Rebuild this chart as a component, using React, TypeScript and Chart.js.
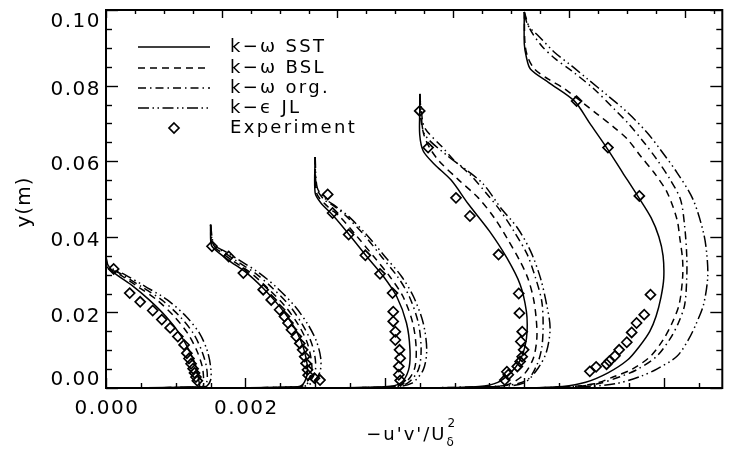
import { useEffect, useRef } from "react";
import { Chart, registerables } from "chart.js";

Chart.register(...registerables);

// Each profile point: [y (m), -u'v'/U_δ²]
type Pt = [number, number];

// Horizontal shift applied to each measuring station
const STATION_OFFSETS = [0, 0.0015, 0.003, 0.0045, 0.006];

// ---- k-ω SST ----
const sst1: Pt[] = [[0.0347, 0], [0.0322, 0.00001], [0.03, 0.00015], [0.0269, 0.00039], [0.0233, 0.00062], [0.0189, 0.00086], [0.0145, 0.00105], [0.01, 0.00119], [0.0057, 0.00129], [0.0021, 0.00133], [0.0003, 0.00133], [0, 0]];
const sst2: Pt[] = [[0.0432, 0], [0.0379, 0.00001], [0.0362, 0.00009], [0.0335, 0.00028], [0.0304, 0.00052], [0.0264, 0.000755], [0.0216, 0.00099], [0.0167, 0.00118], [0.0123, 0.0013], [0.0079, 0.00137], [0.0043, 0.00139], [0.0017, 0.00135], [0.0003, 0.00127], [0, 0]];
const sst3: Pt[] = [[0.0611, 0], [0.0516, 0], [0.049, 0.00008], [0.0454, 0.00027], [0.0401, 0.00051], [0.0348, 0.00074], [0.0295, 0.00098], [0.0242, 0.00117], [0.0172, 0.00131], [0.0101, 0.00136], [0.0048, 0.00134], [0.0012, 0.00122], [0.0003, 0.001], [0, 0]];
const sst4: Pt[] = [[0.0778, 0], [0.0733, 0], [0.067, 0], [0.0627, 0.00005], [0.0592, 0.00021], [0.055, 0.00045], [0.0486, 0.0007], [0.0415, 0.001], [0.0344, 0.00125], [0.0274, 0.00144], [0.0203, 0.00153], [0.015, 0.00154], [0.011, 0.00151], [0.007, 0.00143], [0.004, 0.0013], [0.0015, 0.00112], [0.0004, 0.00085], [0, 0]];
const sst5: Pt[] = [[0.0995, 0], [0.091, 0], [0.0875, 0.00003], [0.0843, 0.00009], [0.0808, 0.00035], [0.0759, 0.00072], [0.07, 0.00094], [0.0636, 0.00118], [0.057, 0.00141], [0.0507, 0.00163], [0.045, 0.00182], [0.04, 0.00193], [0.035, 0.00199], [0.029, 0.002], [0.024, 0.00196], [0.019, 0.00189], [0.015, 0.0018], [0.011, 0.00165], [0.0074, 0.00148], [0.004, 0.0012], [0.0015, 0.00088], [0.0004, 0.00055], [0, 0]];

// ---- k-ω BSL ----
const bsl1: Pt[] = [[0.0347, 0], [0.0322, 0.00002], [0.03, 0.0002], [0.0269, 0.00045], [0.0233, 0.00073], [0.0189, 0.00098], [0.0145, 0.00117], [0.01, 0.0013], [0.0057, 0.00138], [0.0021, 0.0014], [0.0003, 0.00138], [0, 0]];
const bsl2: Pt[] = [[0.0432, 0], [0.0379, 0.00002], [0.0362, 0.00013], [0.0335, 0.00033], [0.0304, 0.00058], [0.0264, 0.00082], [0.0216, 0.00107], [0.0167, 0.00126], [0.0123, 0.00138], [0.0079, 0.00144], [0.0043, 0.00145], [0.0017, 0.00138], [0.0003, 0.00125], [0, 0]];
const bsl3: Pt[] = [[0.0611, 0], [0.0516, 0.00002], [0.048, 0.00018], [0.0454, 0.00035], [0.0401, 0.0006], [0.0348, 0.00084], [0.0295, 0.00107], [0.0242, 0.00126], [0.0172, 0.0014], [0.0101, 0.00145], [0.0048, 0.00142], [0.0012, 0.00128], [0.0003, 0.00105], [0, 0]];
const bsl4: Pt[] = [[0.0778, 0], [0.072, 0.00001], [0.067, 0.00006], [0.0636, 0.00014], [0.06, 0.00028], [0.0552, 0.00055], [0.0503, 0.00084], [0.045, 0.00107], [0.0397, 0.00125], [0.0335, 0.00144], [0.0291, 0.00155], [0.0238, 0.00163], [0.0185, 0.00167], [0.0132, 0.00168], [0.0079, 0.00163], [0.0035, 0.00149], [0.0008, 0.00125], [0.0002, 0.0009], [0, 0]];
const bsl5: Pt[] = [[0.0995, 0], [0.091, 0.00001], [0.0875, 0.00005], [0.0843, 0.00015], [0.0817, 0.000345], [0.0791, 0.00058], [0.0724, 0.00105], [0.0689, 0.00129], [0.0658, 0.00148], [0.0613, 0.00167], [0.057, 0.00186], [0.0517, 0.00205], [0.0446, 0.00219], [0.0397, 0.00223], [0.034, 0.00227], [0.029, 0.00227], [0.022, 0.00222], [0.0172, 0.00212], [0.013, 0.002], [0.0084, 0.00181], [0.005, 0.00155], [0.0031, 0.0013], [0.0011, 0.001], [0.0003, 0.0006], [0, 0]];

// ---- k-ω original ----
const org1: Pt[] = [[0.0347, 0], [0.0322, 0.00003], [0.03, 0.00023], [0.0269, 0.0005], [0.0233, 0.0008], [0.0189, 0.00106], [0.0145, 0.00125], [0.01, 0.00137], [0.0057, 0.00144], [0.0021, 0.00145], [0.0003, 0.0014], [0, 0]];
const org2: Pt[] = [[0.0432, 0], [0.0379, 0.00004], [0.0362, 0.00017], [0.0335, 0.00038], [0.0304, 0.00064], [0.0264, 0.00089], [0.0216, 0.00114], [0.0167, 0.00132], [0.0123, 0.00144], [0.0079, 0.0015], [0.0043, 0.0015], [0.0017, 0.00142], [0.0003, 0.00128], [0, 0]];
const org3: Pt[] = [[0.0611, 0], [0.053, 0.00002], [0.05, 0.00012], [0.048, 0.00028], [0.0454, 0.00045], [0.0401, 0.00072], [0.0348, 0.00095], [0.0295, 0.00118], [0.0242, 0.00135], [0.0172, 0.00148], [0.0101, 0.00152], [0.0048, 0.00148], [0.0012, 0.00132], [0.0003, 0.0011], [0, 0]];
const org4: Pt[] = [[0.0778, 0], [0.074, 0.00002], [0.0689, 0.00007], [0.0636, 0.00033], [0.0601, 0.0005], [0.0565, 0.00072], [0.0512, 0.00097], [0.0468, 0.00116], [0.0415, 0.00135], [0.0354, 0.00154], [0.0292, 0.00166], [0.023, 0.00175], [0.0168, 0.00177], [0.0106, 0.00175], [0.0061, 0.00168], [0.0021, 0.00154], [0.0006, 0.0012], [0, 0]];
const org5: Pt[] = [[0.0995, 0], [0.095, 0.00008], [0.0905, 0.00025], [0.087, 0.00045], [0.0839, 0.00068], [0.0791, 0.001], [0.0738, 0.00129], [0.0702, 0.00148], [0.0649, 0.00172], [0.0605, 0.0019], [0.0552, 0.00209], [0.0499, 0.00224], [0.0428, 0.0023], [0.035, 0.00233], [0.029, 0.00233], [0.022, 0.0023], [0.0172, 0.00221], [0.013, 0.00209], [0.0084, 0.0019], [0.005, 0.00163], [0.0031, 0.00139], [0.0011, 0.00105], [0.0003, 0.00065], [0, 0]];

// ---- k-ε Jones-Launder ----
const jl1: Pt[] = [[0.0347, 0], [0.0322, 0.00004], [0.03, 0.00027], [0.0269, 0.00056], [0.0233, 0.00088], [0.0189, 0.00115], [0.0145, 0.00134], [0.01, 0.00145], [0.0057, 0.0015], [0.0021, 0.0015], [0.0003, 0.00142], [0, 0]];
const jl2: Pt[] = [[0.0432, 0], [0.0379, 0.00005], [0.0362, 0.0002], [0.0335, 0.00044], [0.0304, 0.0007], [0.0264, 0.00096], [0.0216, 0.00121], [0.0167, 0.0014], [0.0123, 0.00152], [0.0079, 0.00158], [0.0043, 0.00157], [0.0017, 0.00148], [0.0003, 0.0013], [0, 0]];
const jl3: Pt[] = [[0.0611, 0], [0.053, 0.00003], [0.05, 0.00015], [0.048, 0.0003], [0.0454, 0.00048], [0.0401, 0.00076], [0.0348, 0.001], [0.0295, 0.00124], [0.0242, 0.00141], [0.0172, 0.00155], [0.0101, 0.0016], [0.0048, 0.00155], [0.0012, 0.00138], [0.0003, 0.00112], [0, 0]];
const jl4: Pt[] = [[0.0778, 0], [0.073, 0.00002], [0.0671, 0.00007], [0.0614, 0.0004], [0.0574, 0.00069], [0.0538, 0.00092], [0.0477, 0.00116], [0.0424, 0.0014], [0.0362, 0.00159], [0.0292, 0.00173], [0.0221, 0.00182], [0.0159, 0.00187], [0.0097, 0.00182], [0.0053, 0.0017], [0.0013, 0.00149], [0.0003, 0.001], [0, 0]];
const jl5: Pt[] = [[0.0995, 0], [0.096, 0.00005], [0.0932, 0.0002], [0.0887, 0.00044], [0.0852, 0.00068], [0.0817, 0.00091], [0.0773, 0.0012], [0.0729, 0.00148], [0.0676, 0.00176], [0.0631, 0.00195], [0.057, 0.00219], [0.0499, 0.00242], [0.0411, 0.00257], [0.035, 0.00262], [0.029, 0.00263], [0.022, 0.00257], [0.0172, 0.00247], [0.013, 0.00236], [0.0084, 0.00219], [0.005, 0.0019], [0.0031, 0.00167], [0.0011, 0.0013], [0.0003, 0.0008], [0, 0]];

// ---- Experiment ----
const exp1: Pt[] = [[0.0315, 0.00011], [0.0251, 0.00034], [0.0228, 0.00049], [0.0205, 0.00067], [0.0181, 0.0008], [0.0159, 0.00092], [0.0136, 0.00103], [0.0114, 0.00112], [0.0092, 0.00116], [0.0078, 0.00119], [0.0064, 0.00122], [0.0051, 0.00125], [0.004, 0.00127], [0.0029, 0.00129], [0.0019, 0.00131]];
const exp2: Pt[] = [[0.0375, 0.00002], [0.0348, 0.00026], [0.0304, 0.00047], [0.026, 0.000755], [0.0233, 0.00087], [0.0207, 0.00099], [0.0189, 0.00106], [0.0172, 0.00111], [0.0154, 0.00116], [0.0136, 0.00123], [0.0118, 0.00128], [0.0101, 0.00132], [0.0083, 0.00135], [0.0065, 0.00137], [0.0048, 0.00139], [0.0034, 0.0014], [0.0026, 0.00149], [0.0021, 0.00157]];
const exp3: Pt[] = [[0.0512, 0.00018], [0.0463, 0.00025], [0.0406, 0.00048], [0.0351, 0.00072], [0.0302, 0.00093], [0.0251, 0.00111], [0.0202, 0.00112], [0.0176, 0.00112], [0.0149, 0.00115], [0.0127, 0.00115], [0.0101, 0.00121], [0.0079, 0.00122], [0.0057, 0.0012], [0.0035, 0.0012], [0.002, 0.00122]];
const exp4: Pt[] = [[0.0733, 0], [0.0636, 0.00012], [0.0503, 0.00052], [0.0455, 0.00072], [0.0353, 0.00113], [0.025, 0.00142], [0.0198, 0.00143], [0.0149, 0.00147], [0.0123, 0.00145], [0.0101, 0.00149], [0.0083, 0.00147], [0.007, 0.00144], [0.0057, 0.0014], [0.0043, 0.00125], [0.0035, 0.00127], [0.0021, 0.00122]];
const exp5: Pt[] = [[0.0759, 0.00075], [0.0636, 0.0012], [0.0508, 0.00165], [0.0247, 0.00181], [0.0194, 0.00172], [0.0172, 0.00161], [0.0147, 0.00154], [0.0121, 0.00147], [0.0101, 0.00136], [0.0085, 0.0013], [0.0071, 0.00122], [0.0063, 0.00118], [0.0056, 0.00103], [0.0044, 0.00094]];

const MODELS = [
  { label: "k−ω SST", dash: [] as number[], profiles: [sst1, sst2, sst3, sst4, sst5] },
  { label: "k−ω BSL", dash: [7, 5], profiles: [bsl1, bsl2, bsl3, bsl4, bsl5] },
  { label: "k−ω org.", dash: [8, 4, 1.5, 4], profiles: [org1, org2, org3, org4, org5] },
  { label: "k−ϵ JL", dash: [11, 3.5, 1.5, 3.5, 1.5, 3.5], profiles: [jl1, jl2, jl3, jl4, jl5] },
];
const EXPERIMENT_LABEL = "Experiment";
const EXPERIMENT = [exp1, exp2, exp3, exp4, exp5];

// Axes
const X_MIN = 0;
const X_MAX = 0.00884;
const Y_MIN = 0;
const Y_MAX = 0.1;
const Y_TICKS = [0, 0.02, 0.04, 0.06, 0.08, 0.1];
const Y_MINOR_STEP = 0.005;
const X_TICK_LABELS = [0, 0.002];
const X_MINOR_STEP = 0.0005;
const X_MAJOR_EVERY = 4;
const TOP_MINOR_STEP = 0.000415;
const TOP_MAJOR_EVERY = 4;
const Y_TITLE = "y(m)";

const FONT = '"DejaVu Sans", sans-serif';

const toPoints = (profile: Pt[], offset: number) =>
  profile.map(([y, v]) => ({ x: offset + v, y }));

function strokeLine(ctx: CanvasRenderingContext2D, x1: number, y1: number, x2: number, y2: number) {
  ctx.beginPath();
  ctx.moveTo(x1, y1);
  ctx.lineTo(x2, y2);
  ctx.stroke();
}

const framePlugin = {
  id: "frameAndTicks",
  afterDatasetsDraw(chart: any) {
    const { ctx, chartArea: a, scales } = chart;
    const xs = scales.x;
    const ys = scales.y;
    ctx.save();
    ctx.strokeStyle = "#000";
    ctx.lineWidth = 2;
    ctx.strokeRect(a.left, a.top, a.right - a.left, a.bottom - a.top);

    ctx.lineWidth = 1.4;
    // left and right edges: inward ticks
    const nY = Math.round((Y_MAX - Y_MIN) / Y_MINOR_STEP);
    for (let k = 0; k <= nY; k++) {
      const v = Y_MIN + k * Y_MINOR_STEP;
      const py = Math.round(ys.getPixelForValue(v)) + 0.5;
      const major = Y_TICKS.some((t) => Math.abs(t - v) < 1e-9);
      const len = major ? 12 : 6;
      strokeLine(ctx, a.left, py, a.left + len, py);
      strokeLine(ctx, a.right, py, a.right - len, py);
    }
    // bottom edge
    const nX = Math.floor((X_MAX - X_MIN) / X_MINOR_STEP + 1e-9);
    for (let k = 0; k <= nX; k++) {
      const px = Math.round(xs.getPixelForValue(X_MIN + k * X_MINOR_STEP)) + 0.5;
      const len = k % X_MAJOR_EVERY === 0 ? 10 : 5;
      strokeLine(ctx, px, a.bottom, px, a.bottom - len);
    }
    // top edge
    const nT = Math.floor((X_MAX - X_MIN) / TOP_MINOR_STEP + 1e-9);
    for (let k = 0; k <= nT; k++) {
      const px = Math.round(xs.getPixelForValue(X_MIN + k * TOP_MINOR_STEP)) + 0.5;
      const len = k % TOP_MAJOR_EVERY === 0 ? 8 : 4;
      strokeLine(ctx, px, a.top, px, a.top + len);
    }
    ctx.restore();
  },
  afterDraw(chart: any) {
    const { ctx, chartArea: a, scales } = chart;
    const xs = scales.x;
    const ys = scales.y;
    ctx.save();
    ctx.fillStyle = "#000";
    ctx.strokeStyle = "#000";

    // y tick labels
    ctx.font = `20px ${FONT}`;
    (ctx as any).letterSpacing = "1.5px";
    ctx.textAlign = "right";
    ctx.textBaseline = "middle";
    for (const t of Y_TICKS) {
      let py = ys.getPixelForValue(t) + 4;
      py = Math.min(Math.max(py, a.top + 12), a.bottom - 8);
      ctx.fillText(t.toFixed(2), a.left - 5, py);
    }
    // x tick labels
    ctx.textAlign = "center";
    for (const t of X_TICK_LABELS) {
      ctx.fillText(t.toFixed(3), xs.getPixelForValue(t) + 1, a.bottom + 21);
    }

    // y title
    ctx.save();
    ctx.translate(25, (a.top + a.bottom) / 2 + 3);
    ctx.rotate(-Math.PI / 2);
    ctx.textAlign = "center";
    (ctx as any).letterSpacing = "1px";
    ctx.fillText(Y_TITLE, 0, 0);
    ctx.restore();

    // x title: −u'v'/U_δ²
    ctx.textAlign = "left";
    ctx.textBaseline = "alphabetic";
    ctx.font = `18px ${FONT}`;
    (ctx as any).letterSpacing = "2px";
    const main = "−u'v'/U";
    const wMain = ctx.measureText(main).width;
    ctx.font = `12px ${FONT}`;
    (ctx as any).letterSpacing = "0px";
    const wSub = ctx.measureText("δ").width;
    const wSup = ctx.measureText("2").width;
    const total = wMain + Math.max(wSub, wSup) + 2;
    const x0 = (a.left + a.right) / 2 - total / 2 - 3;
    const base = a.bottom + 52;
    ctx.font = `18px ${FONT}`;
    (ctx as any).letterSpacing = "2px";
    ctx.fillText(main, x0, base);
    ctx.font = `12px ${FONT}`;
    (ctx as any).letterSpacing = "0px";
    ctx.fillText("δ", x0 + wMain, base + 6);
    ctx.fillText("2", x0 + wMain + 1, base - 13);

    // legend
    const lx1 = a.left + 32;
    const lx2 = a.left + 104;
    const tx = a.left + 124;
    const rows = [a.top + 37, a.top + 58, a.top + 78, a.top + 98, a.top + 118];
    ctx.font = `18px ${FONT}`;
    (ctx as any).letterSpacing = "2.3px";
    ctx.textBaseline = "middle";
    ctx.lineWidth = 1.5;
    MODELS.forEach((m, i) => {
      ctx.setLineDash(m.dash);
      strokeLine(ctx, lx1, rows[i], lx2, rows[i]);
      ctx.setLineDash([]);
      ctx.fillText(m.label, tx, rows[i]);
    });
    const r = rows[4];
    const cx = (lx1 + lx2) / 2;
    ctx.lineWidth = 1.7;
    ctx.beginPath();
    ctx.moveTo(cx, r - 5);
    ctx.lineTo(cx + 5, r);
    ctx.lineTo(cx, r + 5);
    ctx.lineTo(cx - 5, r);
    ctx.closePath();
    ctx.stroke();
    ctx.fillText(EXPERIMENT_LABEL, tx, r);

    (ctx as any).letterSpacing = "0px";
    ctx.restore();
  },
};

export default function App() {
  const canvasRef = useRef<HTMLCanvasElement | null>(null);

  useEffect(() => {
    const canvas = canvasRef.current;
    if (!canvas) return;

    const datasets: any[] = [];
    MODELS.forEach((m) => {
      m.profiles.forEach((profile, s) => {
        datasets.push({
          label: m.label,
          data: toPoints(profile, STATION_OFFSETS[s]),
          showLine: true,
          borderColor: "#000",
          borderWidth: 1.5,
          borderDash: m.dash,
          tension: 0.3,
          pointRadius: 0,
          pointHoverRadius: 0,
          fill: false,
        });
      });
    });
    EXPERIMENT.forEach((profile, s) => {
      datasets.push({
        label: EXPERIMENT_LABEL,
        data: toPoints(profile, STATION_OFFSETS[s]),
        showLine: false,
        pointStyle: "rectRot",
        pointRadius: 5,
        pointBorderWidth: 1.7,
        pointBorderColor: "#000",
        pointBackgroundColor: "rgba(255,255,255,0)",
      });
    });

    const chart = new Chart(canvas, {
      type: "scatter",
      data: { datasets },
      options: {
        responsive: false,
        animation: false,
        devicePixelRatio: 1,
        layout: { padding: { left: 106, top: 10, right: 1, bottom: 69 } },
        plugins: { legend: { display: false }, tooltip: { enabled: false } },
        events: [],
        scales: {
          x: { type: "linear", min: X_MIN, max: X_MAX, display: false },
          y: { type: "linear", min: Y_MIN, max: Y_MAX, display: false },
        },
      },
      plugins: [framePlugin],
    });

    return () => chart.destroy();
  }, []);

  return (
    <div style={{ position: "absolute", left: 0, top: 0, width: 729, height: 457, background: "#fff" }}>
      <canvas ref={canvasRef} width={729} height={457} style={{ display: "block", width: 729, height: 457 }} />
    </div>
  );
}
